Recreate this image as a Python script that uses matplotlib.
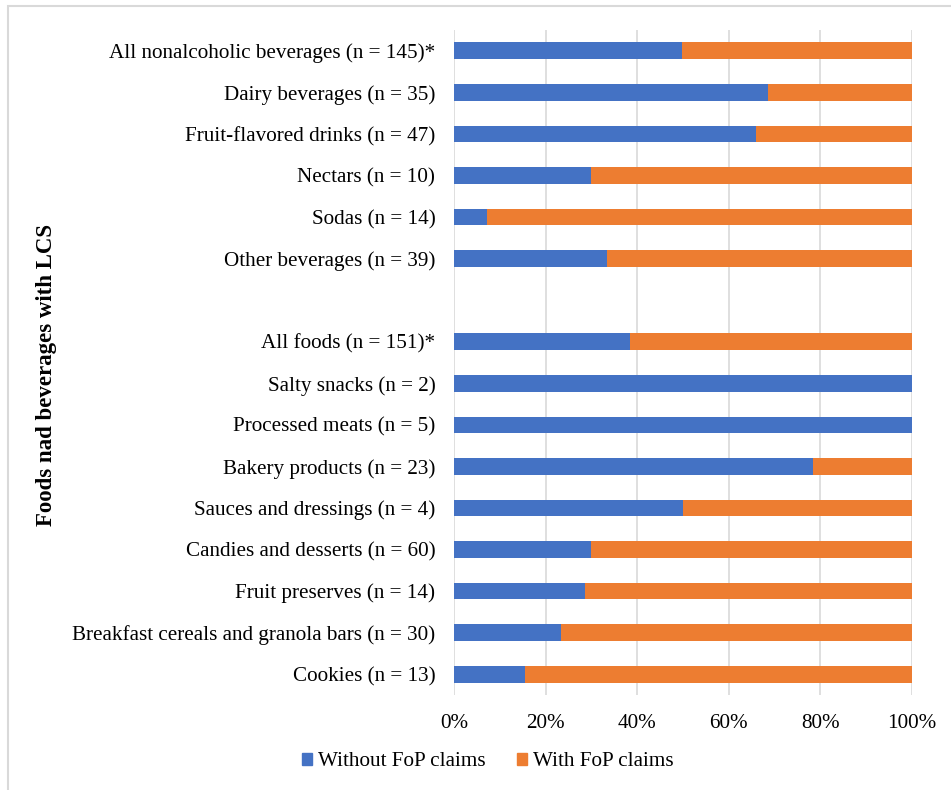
import matplotlib.pyplot as plt
from matplotlib.patches import Rectangle, Patch
import numpy as np

plt.rcParams['font.family'] = ['Liberation Serif', 'DejaVu Serif']

# Categories from top to bottom ('' marks the gap between groups)
categories = [
    "All nonalcoholic beverages (n = 145)*",
    "Dairy beverages (n = 35)",
    "Fruit-flavored drinks (n = 47)",
    "Nectars (n = 10)",
    "Sodas (n = 14)",
    "Other beverages (n = 39)",
    "",
    "All foods (n = 151)*",
    "Salty snacks (n = 2)",
    "Processed meats (n = 5)",
    "Bakery products (n = 23)",
    "Sauces and dressings (n = 4)",
    "Candies and desserts (n = 60)",
    "Fruit preserves (n = 14)",
    "Breakfast cereals and granola bars (n = 30)",
    "Cookies (n = 13)",
]

# share of products without FoP claims (%)
without_fop = [49.7, 68.6, 66.0, 30.0, 7.1, 33.3, 0,
               38.4, 100, 100, 78.3, 50.0, 30.0, 28.6, 23.3, 15.4]
# share with FoP claims (%)
with_fop = [50.3, 31.4, 34.0, 70.0, 92.9, 66.7, 0,
            61.6, 0, 0, 21.7, 50.0, 70.0, 71.4, 76.7, 84.6]

xticks = [0, 20, 40, 60, 80, 100]
xtick_labels = ["0%", "20%", "40%", "60%", "80%", "100%"]

blue = '#4472C4'
orange = '#ED7D31'

fig = plt.figure(figsize=(9.51, 7.90), dpi=100)
ax = fig.add_axes([454 / 951, 1 - 695 / 790, 458 / 951, 665 / 790])

y = np.arange(len(categories))
ax.barh(y, without_fop, height=0.4, color=blue, label='Without FoP claims')
ax.barh(y, with_fop, left=without_fop, height=0.4, color=orange,
        label='With FoP claims')

ax.set_xlim(0, 100)
ax.set_ylim(len(categories) - 0.5, -0.5)
ax.set_xticks(xticks)
ax.set_xticklabels(xtick_labels, fontsize=15.2)
ax.set_yticks(y)
ax.set_yticklabels(categories, fontsize=15.2)
ax.tick_params(length=0)
ax.tick_params(axis='y', pad=13.5)
ax.tick_params(axis='x', pad=14)
ax.xaxis.grid(True, color='#D9D9D9', linewidth=1.2)
ax.set_axisbelow(True)
for s in ax.spines.values():
    s.set_visible(False)

fig.text(47 / 951, 1 - 375 / 790, "Foods nad beverages with LCS",
         rotation=90, fontsize=16.5, fontweight='bold', ha='center', va='center')

handles = [Patch(color=blue), Patch(color=orange)]
fig.legend(handles, ['Without FoP claims', 'With FoP claims'],
           loc='center', bbox_to_anchor=(488 / 951, 1 - 762 / 790),
           ncol=2, frameon=False, fontsize=15.2, handlelength=0.45,
           handleheight=0.45, handletextpad=0.3, columnspacing=1.5)

# chart area border
fig.patches.append(Rectangle((8 / 951, -0.1), 1.2, 1 - 6 / 790 + 0.1,
                             transform=fig.transFigure, fill=False,
                             edgecolor='#D9D9D9', linewidth=1.5))

fig.savefig('out.png', dpi=100)
